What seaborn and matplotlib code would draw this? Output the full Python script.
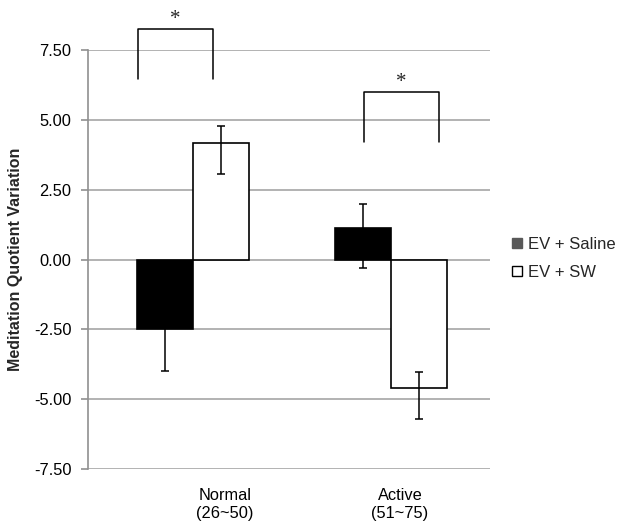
import matplotlib
matplotlib.use('Agg')
import matplotlib.pyplot as plt
from matplotlib.lines import Line2D
import pandas as pd
import seaborn as sns

# chart values
groups = ['Normal\n(26~50)', 'Active\n(51~75)']
treatments = ['EV + Saline', 'EV + SW']
saline_mean = [-2.5, 1.13]
sw_mean = [4.18, -4.61]
# asymmetric error bars (lower, upper)
saline_err_lo = [1.5, 1.44]
saline_err_hi = [1.5, 0.85]
sw_err_lo = [1.11, 1.09]
sw_err_hi = [0.61, 0.59]
y_ticks = [-7.5, -5.0, -2.5, 0.0, 2.5, 5.0, 7.5]

# significance brackets: (x left, x right, y bottom, y top)
brackets = [(-0.28, 0.10, 6.46, 8.25), (0.862, 1.242, 4.21, 6.01)]

df = pd.DataFrame({
    'group': groups * 2,
    'treatment': [treatments[0]] * 2 + [treatments[1]] * 2,
    'value': saline_mean + sw_mean,
})

sns.set_theme(style='white')
plt.rcParams['font.family'] = ['Liberation Sans', 'DejaVu Sans']

fig = plt.figure(figsize=(6.18, 5.27), dpi=100)
ax = fig.add_axes([0.1424, 0.110, 0.6505, 0.795])

sns.barplot(data=df, x='group', y='value', hue='treatment',
            palette=['black', 'white'], edgecolor='black', linewidth=1.2,
            width=0.566, legend=False, ax=ax, zorder=3)

# error bars on top of the bars
errs = [(saline_err_lo, saline_err_hi), (sw_err_lo, sw_err_hi)]
for cont, (lo, hi) in zip(ax.containers, errs):
    for bar, e_lo, e_hi in zip(cont, lo, hi):
        xc = bar.get_x() + bar.get_width() / 2
        ax.errorbar(xc, bar.get_y() + bar.get_height(),
                    yerr=[[e_lo], [e_hi]], fmt='none', ecolor='black',
                    elinewidth=1.1, capsize=3, capthick=1.1, zorder=4)

ax.set_ylim(-7.5, 7.5)
ax.set_xlim(-0.53, 1.5)
ax.set_yticks(y_ticks)
ax.set_yticklabels(['%.2f' % t for t in y_ticks])
ax.set_xticks([0.16, 1.045])
ax.set_xticklabels(groups)
ax.yaxis.grid(True, color='#a6a6a6', linewidth=1.2, zorder=0)
ax.set_axisbelow(True)
for s in ['top', 'right', 'bottom']:
    ax.spines[s].set_visible(False)
ax.spines['left'].set_color('#909090')
ax.spines['left'].set_linewidth(1.2)
ax.tick_params(axis='y', left=True, length=5, width=1.2, color='#909090',
               pad=7, labelsize=11.8, labelcolor='black')
ax.tick_params(axis='x', length=0, pad=14, labelsize=11.8,
               labelcolor='black')
ax.set_xlabel('')
ax.set_ylabel('Meditation Quotient Variation', fontsize=11.5,
              fontweight='bold', labelpad=8)

# significance brackets with asterisks
for x0, x1, yb, yt in brackets:
    ax.plot([x0, x0, x1, x1], [yb, yt, yt, yb], color='black',
            linewidth=1.1, clip_on=False, zorder=5)
    ax.text((x0 + x1) / 2, yt, '*', ha='center', va='bottom',
            fontsize=15, family='Liberation Serif', clip_on=False)

handles = [
    Line2D([], [], marker='s', linestyle='none', markersize=6.5,
           markerfacecolor='#595959', markeredgecolor='#595959'),
    Line2D([], [], marker='s', linestyle='none', markersize=7.5,
           markerfacecolor='white', markeredgecolor='black',
           markeredgewidth=1.0),
]
fig.legend(handles, treatments, loc='center left',
           bbox_to_anchor=(0.825, 0.510), frameon=False, fontsize=12,
           handlelength=0.8, handletextpad=0.3, labelspacing=0.8,
           borderpad=0, borderaxespad=0)

fig.savefig('out.png', dpi=100)
